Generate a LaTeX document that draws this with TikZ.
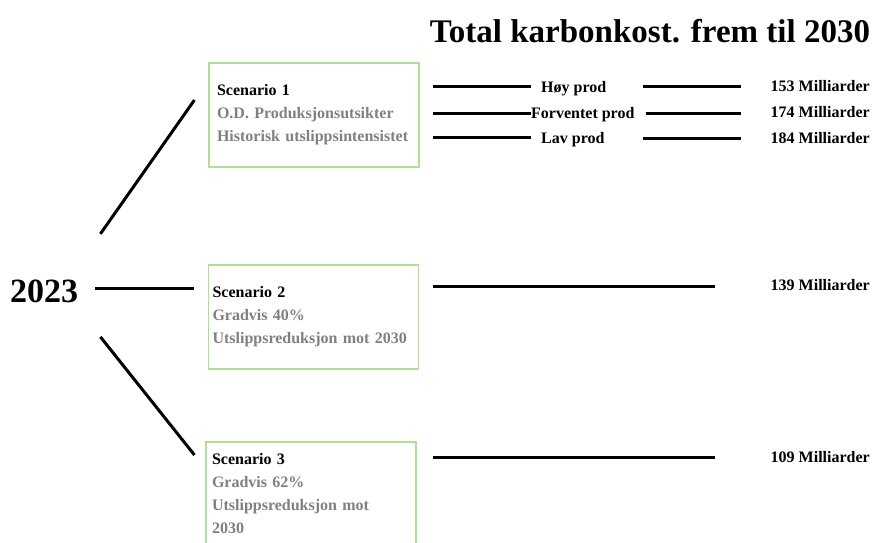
\documentclass[tikz,border=0pt]{standalone}
\usepackage{fontspec}
\setmainfont{Liberation Serif}
\usetikzlibrary{positioning,calc}
\definecolor{boxgreen}{RGB}{176,222,150}
\definecolor{txtgray}{RGB}{128,128,128}

\begin{document}
\begin{tikzpicture}[x=1pt, y=-1pt,
  box/.style={draw=boxgreen, line width=1.1pt, minimum width=210pt, minimum height=104pt,
    text width=198pt, inner xsep=6pt, align=left, font=\fontsize{16}{23}\selectfont\bfseries},
  lab/.style={inner sep=0pt, font=\fontsize{16}{19}\selectfont\bfseries},
  bar/.style={line width=3pt}
]
\useasboundingbox (0,0) rectangle (877,542);

\node[anchor=base, inner sep=0pt, font=\fontsize{33}{37}\selectfont\bfseries] (title) at (650,42) {Total karbonkost. frem til 2030};
\node[anchor=base west, inner sep=0pt, font=\fontsize{34}{38}\selectfont\bfseries] (year) at (10,302) {2023};

\node[box, text width=194pt, inner xsep=8pt] (s1) at (314,115) {Scenario 1\\\textcolor{txtgray}{O.D. Produksjonsutsikter}\\\textcolor{txtgray}{Historisk utslippsintensistet}};
\node[box, inner xsep=4pt, text width=202pt] (s2) at (313.5,317) {Scenario 2\\\textcolor{txtgray}{Gradvis 40\%}\\\textcolor{txtgray}{Utslippsreduksjon mot 2030}};
\node[box] (s3) at (311,494) {Scenario 3\\\textcolor{txtgray}{Gradvis 62\%}\\\textcolor{txtgray}{Utslippsreduksjon mot}\\\textcolor{txtgray}{2030}};

% branches from 2023
\draw[bar] ([shift={(22,-57)}]year.east) -- ([shift={(-14,-15)}]s1.west);
\draw[bar] ([shift={(17,-2)}]year.east) -- ($(year.east -| s2.west)+(-14,-2)$);
\draw[bar] ([shift={(22,46)}]year.east) -- ([shift={(-11,-39)}]s3.west);

% scenario 1 rows
\node[lab, anchor=base west] (hoy) at (541,92) {Høy prod};
\node[lab, anchor=base west] (fov) at (531,118) {Forventet prod};
\node[lab, anchor=base west] (lav) at (541,143) {Lav prod};
\node[lab, anchor=base east] (r153) at (870,91) {153 Milliarder};
\node[lab, anchor=base east] (r174) at (870,117) {174 Milliarder};
\node[lab, anchor=base east] (r184) at (870,143) {184 Milliarder};

\draw[bar] ($(s1.east |- hoy)+(13,-1.5)$) -- ++(98,0);
\draw[bar] ($(r153.west |- hoy)+(-128,-2)$) -- ($(r153.west |- hoy)+(-30,-2)$);
\draw[bar] ($(s1.east |- fov)+(13,-1)$) -- ++(98,0);
\draw[bar] ($(r174.west |- fov)+(-125,-1)$) -- ($(r174.west |- fov)+(-30,-1)$);
\draw[bar] ($(s1.east |- lav)+(13,-1.5)$) -- ++(98,0);
\draw[bar] ($(r184.west |- lav)+(-128,-1)$) -- ($(r184.west |- lav)+(-30,-1)$);

% scenario 2 and 3
\node[lab, anchor=base east] (r139) at (870,290) {139 Milliarder};
\node[lab, anchor=base east] (r109) at (870,462) {109 Milliarder};
\draw[bar] ($(s2.east |- r139)+(14,2)$) -- ($(r139.west)+(-56,2)$);
\draw[bar] ($(s3.east |- r109)+(16,1)$) -- ($(r109.west)+(-56,1)$);
\end{tikzpicture}
\end{document}
